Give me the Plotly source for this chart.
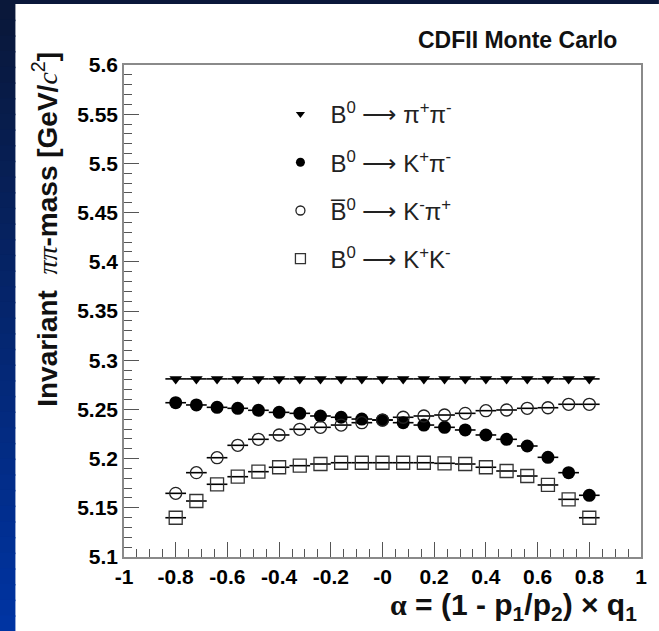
import plotly.graph_objects as go

# ---------------- data ----------------
alpha = [-0.80, -0.72, -0.64, -0.56, -0.48, -0.40, -0.32, -0.24, -0.16, -0.08, 0.00,
         0.08, 0.16, 0.24, 0.32, 0.40, 0.48, 0.56, 0.64, 0.72, 0.80]

m_pipi = [5.281, 5.281, 5.281, 5.281, 5.281, 5.281, 5.281, 5.281, 5.281, 5.281, 5.281,
          5.281, 5.281, 5.281, 5.281, 5.281, 5.281, 5.281, 5.281, 5.281, 5.281]
m_kpi = [5.2568, 5.2545, 5.2521, 5.2511, 5.2491, 5.2470, 5.2460, 5.2433, 5.2420, 5.2402, 5.2392,
         5.2365, 5.2341, 5.2318, 5.2291, 5.2240, 5.2196, 5.2128, 5.2013, 5.1857, 5.1627]
m_kbarpi = [5.1647, 5.1857, 5.2009, 5.2135, 5.2196, 5.2240, 5.2298, 5.2318, 5.2341, 5.2365, 5.2392,
            5.2420, 5.2433, 5.2443, 5.2460, 5.2487, 5.2494, 5.2511, 5.2517, 5.2552, 5.2552]
m_kk = [5.1399, 5.1569, 5.1739, 5.1816, 5.1867, 5.1912, 5.1928, 5.1945, 5.1958, 5.1958, 5.1958,
        5.1958, 5.1958, 5.1952, 5.1945, 5.1912, 5.1874, 5.1823, 5.1732, 5.1586, 5.1399]
half_bin = 0.04

series_names = ["B<sup>0</sup> ⟶ π<sup>+</sup>π<sup>-</sup>",
                "B<sup>0</sup> ⟶ K<sup>+</sup>π<sup>-</sup>",
                "B\u0305<sup>0</sup> ⟶ K<sup>-</sup>π<sup>+</sup>",
                "B<sup>0</sup> ⟶ K<sup>+</sup>K<sup>-</sup>"]

x_tickvals = [-1, -0.8, -0.6, -0.4, -0.2, 0, 0.2, 0.4, 0.6, 0.8, 1]
x_ticktext = ["-1", "-0.8", "-0.6", "-0.4", "-0.2", "-0", "0.2", "0.4", "0.6", "0.8", "1"]
y_tickvals = [5.1, 5.15, 5.2, 5.25, 5.3, 5.35, 5.4, 5.45, 5.5, 5.55, 5.6]
y_ticktext = ["5.1", "5.15", "5.2", "5.25", "5.3", "5.35", "5.4", "5.45", "5.5", "5.55", "5.6"]


def plotly_label(v):
    # default plotly tick text (uses the unicode minus sign for negatives)
    return ("\u2212" + f"{abs(v):g}") if v < 0 else f"{v:g}"


x_alias = {plotly_label(v): t for v, t in zip(x_tickvals, x_ticktext)}
y_alias = {plotly_label(v): t for v, t in zip(y_tickvals, y_ticktext)}

# ---------------- figure ----------------
W, H = 659, 631
L, R, T, B = 124, 16, 65, 74
pw, ph = W - L - R, H - T - B


def px_x(p):
    return (p - L) / pw


def px_y(p):
    return (H - B - p) / ph


fig = go.Figure()

styles = [
    dict(symbol="triangle-down", size=11, color="black", line=dict(width=0)),
    dict(symbol="circle", size=13, color="black", line=dict(width=0)),
    dict(symbol="circle-open", size=12, color="#222", line=dict(width=1.3, color="#222")),
    dict(symbol="square-open", size=13, color="#333", line=dict(width=1.3, color="#333")),
]
legend_sizes = [8, 9, 9, 10]

for ys, st in zip([m_pipi, m_kpi, m_kbarpi, m_kk], styles):
    fig.add_trace(go.Scatter(
        x=alpha, y=ys, mode="markers", marker=st, showlegend=False,
        error_x=dict(type="constant", value=half_bin, width=0, thickness=1.6, color="black"),
    ))

for i, (name, st) in enumerate(zip(series_names, styles)):
    lst = dict(st)
    lst["size"] = legend_sizes[i]
    fig.add_trace(go.Scatter(
        x=[None], y=[None], mode="markers", marker=lst, name=name,
        legendgroup=f"g{i}", showlegend=True,
    ))

# background: white panel, navy/blue frame
shapes = []
nstrip = 40
top_px = 4
step = (H - top_px) / nstrip
for k in range(nstrip):
    y0 = top_px + step * k
    y1 = y0 + step + 1.5
    f = k / (nstrip - 1)
    r = int(10 + (0 - 10) * f)
    g = int(24 + (52 - 24) * f)
    b = int(58 + (162 - 58) * f)
    shapes.append(dict(type="rect", xref="paper", yref="paper", layer="below",
                       x0=px_x(-2), x1=px_x(15), y0=px_y(min(y1, H + 2)), y1=px_y(y0),
                       line=dict(width=0), fillcolor=f"rgb({r},{g},{b})"))
shapes.append(dict(type="rect", xref="paper", yref="paper", layer="below",
                   x0=px_x(-2), x1=px_x(W + 2), y0=px_y(top_px), y1=px_y(-2),
                   line=dict(width=0), fillcolor="rgb(10,24,58)"))

tickfont = dict(family="Liberation Sans, Arial, sans-serif", size=21, color="black", weight="bold")
axis_common = dict(showgrid=False, zeroline=False, showline=True, linecolor="#8a8a8a",
                   linewidth=1.5, mirror=True, ticks="inside", tickcolor="#555",
                   tickwidth=1.4, ticklen=15, tickfont=tickfont, tickmode="linear")

fig.update_layout(
    width=W, height=H,
    margin=dict(l=L, r=R, t=T, b=B),
    paper_bgcolor="white", plot_bgcolor="white",
    hovermode=False,
    shapes=shapes,
    xaxis=dict(range=[-1, 1], tick0=-1, dtick=0.2, labelalias=x_alias,
               minor=dict(dtick=0.05, ticks="inside", ticklen=8, tickcolor="#555", tickwidth=1.2),
               **axis_common),
    yaxis=dict(range=[5.1, 5.6], tick0=5.1, dtick=0.05, labelalias=y_alias,
               minor=dict(dtick=0.01, ticks="inside", ticklen=8, tickcolor="#555", tickwidth=1.2),
               **axis_common),
    legend=dict(x=px_x(271), y=px_y(92), xanchor="left", yanchor="top",
                bgcolor="rgba(0,0,0,0)", borderwidth=0, tracegroupgap=14,
                traceorder="grouped", itemwidth=50,
                font=dict(family="Liberation Sans, Arial, sans-serif", size=24, color="#222")),
    annotations=[
        dict(text="CDFII Monte Carlo", xref="paper", yref="paper", x=px_x(621), y=px_y(40),
             xanchor="right", yanchor="middle", showarrow=False,
             font=dict(family="Liberation Sans, Arial, sans-serif", size=23, color="#111", weight="bold")),
        dict(text="<b>Invariant</b>  <span style='font-family:Liberation Serif'><i>ππ</i></span>"
                  "<b>-mass [GeV/</b><span style='font-family:Liberation Serif'><i>c</i></span>"
                  "<sup>2</sup><b>]</b>",
             xref="paper", yref="paper", x=px_x(44), y=px_y(50), textangle=-90,
             xanchor="center", yanchor="top", showarrow=False,
             font=dict(family="Liberation Sans, Arial, sans-serif", size=28, color="#111")),
        dict(text="<span style='font-family:Liberation Serif'>α</span> = (1 - p<sub>1</sub>/p<sub>2</sub>) × q<sub>1</sub>",
             xref="paper", yref="paper", x=px_x(641), y=px_y(606),
             xanchor="right", yanchor="middle", showarrow=False,
             font=dict(family="Liberation Sans, Arial, sans-serif", size=30, color="#111", weight="bold")),
    ],
)

fig.write_html("out.html", config={"displayModeBar": False},
               post_script="document.body.style.margin='0';")
